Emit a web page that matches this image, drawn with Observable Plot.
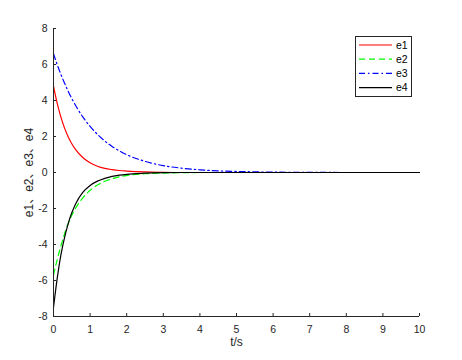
<!DOCTYPE html>
<html><head><meta charset="utf-8">
<script src="https://cdn.jsdelivr.net/npm/d3@7"></script>
<script src="https://cdn.jsdelivr.net/npm/@observablehq/plot@0.6"></script>
<style>
body{margin:0;background:#fff;}
#wrap{position:relative;width:462px;height:360px;font-family:"Liberation Sans",Arial,Helvetica,sans-serif;}
#legend{position:absolute;left:355px;top:36px;}
</style></head><body><div id="wrap"></div>
<script>
// time samples (s)
const t  = [0, 0.1, 0.2, 0.3, 0.4, 0.5, 0.6, 0.8, 1.0, 1.2, 1.4, 1.6, 1.8, 2.0, 2.5, 3.0, 3.5, 4.0, 4.5, 5.0, 6.0, 7.0, 8.0, 9.0, 10.0];
const e1 = [4.80, 3.85, 3.09, 2.48, 1.99, 1.60, 1.28, 0.83, 0.54, 0.35, 0.23, 0.16, 0.11, 0.08, 0.03, 0.01, 0, 0, 0, 0, 0, 0, 0, 0, 0];
const e2 = [-5.70, -4.85, -4.10, -3.42, -2.85, -2.38, -2.00, -1.41, -0.99, -0.70, -0.49, -0.35, -0.24, -0.17, -0.07, -0.03, -0.01, 0, 0, 0, 0, 0, 0, 0, 0];
const e3 = [6.60, 6.00, 5.46, 4.97, 4.52, 4.11, 3.74, 3.09, 2.56, 2.12, 1.75, 1.45, 1.20, 0.99, 0.62, 0.38, 0.24, 0.15, 0.09, 0.06, 0.02, 0.01, 0, 0, 0];
const e4 = [-7.50, -5.90, -4.60, -3.63, -2.85, -2.24, -1.76, -1.11, -0.72, -0.48, -0.33, -0.22, -0.15, -0.10, -0.04, -0.01, 0, 0, 0, 0, 0, 0, 0, 0, 0];

const seriesNames = ["e1", "e2", "e3", "e4"];
const seriesValues = [e1, e2, e3, e4];
const colors = ["#ff0000", "#00ff00", "#0000ff", "#000000"];
const dashes = [null, "6,4", "6,3,1.5,3", null];
const xTicks = [0, 1, 2, 3, 4, 5, 6, 7, 8, 9, 10];
const yTicks = [-8, -6, -4, -2, 0, 2, 4, 6, 8];
const xLabel = "t/s";
const yLabel = "e1、e2、e3、e4";

const axisColor = "#262626";
const fontFam = '"Liberation Sans", Arial, Helvetica, "Noto Sans CJK SC", sans-serif';

const lineMarks = seriesNames.map((name, i) => {
  const rows = t.map((tt, j) => ({t: tt, v: seriesValues[i][j]}));
  return Plot.line(rows, {x: "t", y: "v", stroke: colors[i], strokeWidth: 1.2,
    strokeDasharray: dashes[i] || undefined, curve: "monotone-x"});
});

const chart = Plot.plot({
  width: 462, height: 360,
  marginLeft: 53, marginRight: 43, marginTop: 28, marginBottom: 44,
  style: {fontFamily: fontFam, fontSize: "10.5px", background: "#fff", color: axisColor},
  x: {domain: [0, 10]},
  y: {domain: [-8, 8]},
  marks: [
    ...lineMarks,
    Plot.ruleX([0], {stroke: axisColor, strokeWidth: 1}),
    Plot.ruleY([-8], {stroke: axisColor, strokeWidth: 1}),
    Plot.axisX(xTicks, {tickSize: -3, tickPadding: 12, tickFormat: d => String(d), label: null, stroke: axisColor}),
    Plot.axisY(yTicks, {tickSize: -3, tickPadding: 9, tickFormat: d => String(d), label: null, stroke: axisColor}),
    Plot.text([xLabel], {text: d => d, frameAnchor: "bottom", dy: 29, fontSize: 12, fill: axisColor}),
    Plot.text([yLabel], {text: d => d, frameAnchor: "left", textAnchor: "middle", lineAnchor: "middle", dx: -24, rotate: -90, fontSize: 12, fill: axisColor})
  ]
});
const wrap = document.getElementById("wrap");
wrap.appendChild(chart);

// legend
const ns = "http://www.w3.org/2000/svg";
const lg = document.createElementNS(ns, "svg");
lg.setAttribute("id", "legend");
lg.setAttribute("width", 57);
lg.setAttribute("height", 61);
const box = document.createElementNS(ns, "rect");
box.setAttribute("x", 0.5); box.setAttribute("y", 0.5);
box.setAttribute("width", 56); box.setAttribute("height", 60);
box.setAttribute("fill", "#fff"); box.setAttribute("stroke", axisColor);
lg.appendChild(box);
seriesNames.forEach((name, i) => {
  const yy = 9 + i * 14.2;
  const ln = document.createElementNS(ns, "line");
  ln.setAttribute("x1", 4); ln.setAttribute("x2", 37);
  ln.setAttribute("y1", yy); ln.setAttribute("y2", yy);
  ln.setAttribute("stroke", colors[i]); ln.setAttribute("stroke-width", 1.2);
  if (dashes[i]) ln.setAttribute("stroke-dasharray", dashes[i]);
  lg.appendChild(ln);
  const tx = document.createElementNS(ns, "text");
  tx.setAttribute("x", 41); tx.setAttribute("y", yy);
  tx.setAttribute("dy", "0.35em");
  tx.setAttribute("font-size", "10.5px");
  tx.setAttribute("font-family", fontFam);
  tx.setAttribute("fill", "#000");
  tx.textContent = name;
  lg.appendChild(tx);
});
wrap.appendChild(lg);
</script></body></html>
